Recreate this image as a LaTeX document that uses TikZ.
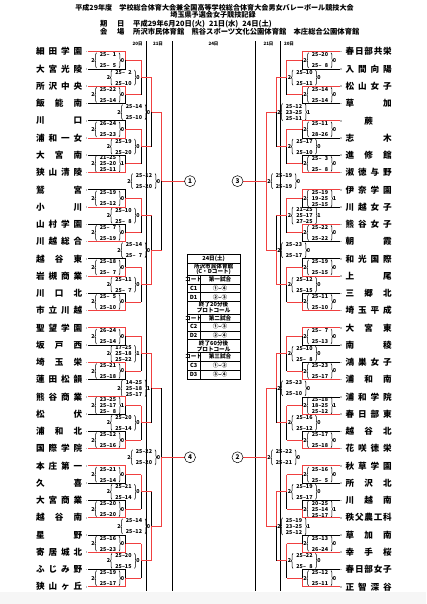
\documentclass[tikz,border=0pt]{standalone}
\usepackage{fontspec}
\newfontfamily\jp{Noto Sans CJK JP}
\usetikzlibrary{decorations.pathreplacing}
\definecolor{winred}{RGB}{240,64,64}
\newcommand\zz{\hphantom{0}}
\def\sprA#1{#1\sprB}
\def\sprB#1{\ifx#1\relax\else\hfill#1\expandafter\sprB\fi}
% score block: #1 x0, #2 ym, #3 nsets, #4 scores, #5 name prefix
\newcommand\SB[5]{%
  \pgfmathsetmacro\bh{#3==3 ? 8.6 : 7.6}%
  \pgfmathtruncatemacro\lc{#3-2}%
  \node[sc] (#5w) at (#1+1.5,#2) {2};
  \node[sc] (#5l) at (#1+31,#2) {\lc};
  \draw[brc] (#1+5,#2+\bh) -- (#1+5,#2-\bh);
  \draw[brc] (#1+27.5,#2-\bh) -- (#1+27.5,#2+\bh);
  \foreach \s [count=\j] in {#4} {%
    \pgfmathsetmacro\sy{#2+(#3==3 ? 6*(\j-2) : 5.5*(2*\j-3))}%
    \node[sc] (#5s\j) at (#1+16.5,\sy) {\s};
  }%
}
% match: #1 side L/R, #2 level, #3 index, #4 winner t/b/a, #5 nsets, #6 scores
\newcommand\MT[6]{%
  \pgfmathsetmacro\rt{2^#2*(#3-1)+(2^(#2-1)-1)/2}%
  \pgfmathsetmacro\yt{51.7+17.26*\rt}%
  \pgfmathsetmacro\yb{\yt+17.26*2^(#2-1)}%
  \pgfmathsetmacro\ym{(\yt+\yb)/2}%
  \pgfmathsetmacro\xv{{125.5,141,151.5,161.5}[#2-1]}%
  \pgfmathsetmacro\xo{{141,151.5,161.5,184.5}[#2-1]}%
  \if L#1\pgfmathsetmacro\xz{\xv-34}\else
    \pgfmathsetmacro\xv{427.5-\xv}\pgfmathsetmacro\xo{427.5-\xo}\pgfmathsetmacro\xz{\xv+1.5}\fi
  \coordinate (#1m#2-#3) at (\xv,\ym);
  \coordinate (#1t#2-#3) at (\xv,\yt);
  \coordinate (#1b#2-#3) at (\xv,\yb);
  \coordinate (#1o#2-#3) at (\xo,\ym);
  \if b#4\draw[lose] (#1t#2-#3) -- (#1m#2-#3);\else\draw[win] (#1t#2-#3) -- (#1m#2-#3);\fi
  \if t#4\draw[lose] (#1m#2-#3) -- (#1b#2-#3);\else\draw[win] (#1m#2-#3) -- (#1b#2-#3);\fi
  \draw[win] (#1m#2-#3) -- (#1o#2-#3);
  \SB{\xz}{\ym}{#5}{#6}{#1m#2-#3}%
}
% team: #1 side, #2 index, #3 w/l, #4 name
\newcommand\TM[4]{%
  \pgfmathsetmacro\ty{51.7+17.26*(#2-1)}%
  \if L#1\def\nx{36}\def\lx{88}\def\ex{125.5}\def\mx{86.3}\else\def\nx{345.5}\def\lx{339.5}\def\ex{302}\def\mx{341.2}\fi
  \node[tname] (#1n#2) at (\nx,\ty) {\makebox[46pt][s]{\sprA #4\relax}};
  \coordinate (#1a#2) at (\lx,\ty);
  \coordinate (#1e#2) at (\ex,\ty);
  \fill[gray!55] (\mx-0.8,\ty-0.8) rectangle (\mx+0.8,\ty+0.8);
  \if w#3\draw[win] (#1a#2) -- (#1e#2);\else\draw[lose] (#1a#2) -- (#1e#2);\fi
}
\begin{document}
\begin{tikzpicture}[x=1pt,y=-1pt,
  win/.style={draw=winred,line width=0.9pt},
  lose/.style={draw=black,line width=0.75pt},
  colline/.style={draw=black,line width=0.8pt},
  sc/.style={font=\jp\bfseries\fontsize{5.4}{5.4}\selectfont,inner sep=0pt},
  tname/.style={font=\jp\bfseries\fontsize{8.6}{9}\selectfont,inner sep=0pt,anchor=west},
  ttl/.style={font=\jp\bfseries\fontsize{7.1}{8}\selectfont,inner sep=0pt},
  ttm/.style={font=\jp\bfseries\fontsize{7.3}{8}\selectfont,inner sep=0pt,anchor=west},
  hdr/.style={font=\jp\bfseries\fontsize{4.5}{5}\selectfont,inner sep=0pt},
  tb/.style={font=\jp\bfseries\fontsize{5.6}{6}\selectfont,inner sep=0pt},
  brc/.style={decorate,decoration={brace,amplitude=1.6pt},line width=0.55pt},
  circ/.style={circle,draw,line width=0.5pt,minimum size=11pt,inner sep=0pt,font=\jp\bfseries\fontsize{6.5}{7}\selectfont}]
\fill[white] (0,0) rectangle (426,604);
\useasboundingbox (0,0) rectangle (426,604);
\fill[gray!7] (0,592) rectangle (426,604);
% titles
\node[ttl] (title1) at (214.5,7.5) {平成29年度　学校総合体育大会兼全国高等学校総合体育大会男女バレーボール競技大会};
\node[ttl] (title2) at (213,14.7) {埼玉県予選会女子競技記録};
\node[ttm] (k1) at (100,24) {期};
\node[ttm] (k2) at (117,24) {日};
\node[ttm] (k3) at (133,24) {平成29年6月20日(火)\hspace{4pt}21日(水)\hspace{4pt}24日(土)};
\node[ttm] (v1) at (100,31.3) {会};
\node[ttm] (v2) at (117,31.3) {場};
\node[ttm] (v3) at (133,31.3) {所沢市民体育館　熊谷スポーツ文化公園体育館　本庄総合公園体育館};
% headers
\node[hdr] (h1) at (137.7,44) {20日};
\node[hdr] (h2) at (158,44) {21日};
\node[hdr] (h3) at (213.5,44) {24日};
\node[hdr] (h4) at (268.5,44) {21日};
\node[hdr] (h5) at (289,44) {20日};
\foreach \cx/\cn in {146.7/a,172/b,255.5/c,280.8/d}{
  \coordinate (col\cn t) at (\cx,41.5);
  \coordinate (col\cn b) at (\cx,590.5);
  \draw[colline] (col\cn t) -- (col\cn b);
}
% left matches
\MT{L}{1}{1}{t}{2}{25–\zz1,25–\zz5}
\MT{L}{1}{2}{t}{2}{25–22,25–14}
\MT{L}{1}{3}{b}{2}{26–24,25–23}
\MT{L}{1}{4}{b}{3}{21–25,25–20,25–11}
\MT{L}{1}{5}{b}{2}{25–19,25–12}
\MT{L}{1}{6}{b}{2}{25–\zz7,25–19}
\MT{L}{1}{7}{b}{2}{25–18,25–\zz7}
\MT{L}{1}{8}{b}{2}{25–\zz5,25–10}
\MT{L}{1}{9}{t}{2}{26–24,25–14}
\MT{L}{1}{10}{t}{2}{25–21,25–18}
\MT{L}{1}{11}{t}{3}{23–25,25–17,25–\zz8}
\MT{L}{1}{12}{b}{2}{25–12,25–16}
\MT{L}{1}{13}{t}{2}{25–21,25–14}
\MT{L}{1}{14}{b}{2}{25–20,25–20}
\MT{L}{1}{15}{b}{2}{25–16,25–23}
\MT{L}{1}{16}{b}{2}{25–19,25–17}
\MT{L}{2}{1}{t}{2}{25–\zz2,25–10}
\MT{L}{2}{2}{t}{2}{25–19,25–20}
\MT{L}{2}{3}{t}{2}{25–10,25–\zz8}
\MT{L}{2}{4}{t}{2}{25–11,25–\zz7}
\MT{L}{2}{5}{t}{3}{17–25,25–18,25–22}
\MT{L}{2}{6}{t}{2}{25–20,25–14}
\MT{L}{2}{7}{t}{2}{25–21,25–14}
\MT{L}{2}{8}{t}{2}{25–20,25–15}
\MT{L}{3}{1}{t}{2}{25–14,25–10}
\MT{L}{3}{2}{b}{2}{25–14,25–\zz7}
\MT{L}{3}{3}{t}{3}{14–25,25–18,25–17}
\MT{L}{3}{4}{b}{2}{25–14,25–12}
\MT{L}{4}{1}{t}{2}{25–12,25–20}
\MT{L}{4}{2}{b}{2}{25–22,25–20}
% right matches
\MT{R}{1}{1}{t}{2}{25–20,25–\zz8}
\MT{R}{1}{2}{t}{2}{25–14,25–14}
\MT{R}{1}{3}{t}{2}{25–11,28–26}
\MT{R}{1}{4}{b}{2}{25–\zz3,25–\zz8}
\MT{R}{1}{5}{t}{3}{25–19,19–25,25–15}
\MT{R}{1}{6}{t}{2}{25–22,25–22}
\MT{R}{1}{7}{b}{2}{25–19,25–15}
\MT{R}{1}{8}{b}{2}{25–11,25–10}
\MT{R}{1}{9}{t}{2}{25–\zz7,25–13}
\MT{R}{1}{10}{b}{2}{25–23,25–17}
\MT{R}{1}{11}{b}{3}{25–18,18–25,25–12}
\MT{R}{1}{12}{b}{2}{25–17,25–18}
\MT{R}{1}{13}{t}{2}{25–16,25–\zz5}
\MT{R}{1}{14}{b}{3}{20–25,25–14,25–17}
\MT{R}{1}{15}{b}{2}{25–13,26–24}
\MT{R}{1}{16}{b}{2}{25–12,25–11}
\MT{R}{2}{1}{t}{2}{25–10,25–11}
\MT{R}{2}{2}{t}{2}{25–17,25–10}
\MT{R}{2}{3}{t}{3}{21–25,25–17,27–25}
\MT{R}{2}{4}{t}{2}{25–12,25–15}
\MT{R}{2}{5}{t}{2}{25–10,25–\zz8}
\MT{R}{2}{6}{t}{2}{25–16,25–12}
\MT{R}{2}{7}{t}{2}{25–19,25–17}
\MT{R}{2}{8}{t}{2}{25–22,25–\zz8}
\MT{R}{3}{1}{t}{3}{25–12,23–25,25–11}
\MT{R}{3}{2}{b}{2}{25–23,25–17}
\MT{R}{3}{3}{t}{2}{25–23,25–10}
\MT{R}{3}{4}{t}{3}{25–19,23–25,25–12}
\MT{R}{4}{1}{a}{2}{25–19,25–19}
\MT{R}{4}{2}{a}{2}{25–22,25–21}
% teams left
\TM{L}{1}{w}{細田学園}
\TM{L}{2}{l}{大宮光陵}
\TM{L}{3}{w}{所沢中央}
\TM{L}{4}{l}{飯能南}
\TM{L}{5}{l}{川口}
\TM{L}{6}{w}{浦和一女}
\TM{L}{7}{l}{大宮南}
\TM{L}{8}{w}{狭山清陵}
\TM{L}{9}{l}{鷲宮}
\TM{L}{10}{w}{小川}
\TM{L}{11}{l}{山村学園}
\TM{L}{12}{w}{川越総合}
\TM{L}{13}{l}{越谷東}
\TM{L}{14}{w}{岩槻商業}
\TM{L}{15}{l}{川口北}
\TM{L}{16}{w}{市立川越}
\TM{L}{17}{w}{聖望学園}
\TM{L}{18}{l}{坂戸西}
\TM{L}{19}{w}{埼玉栄}
\TM{L}{20}{l}{蓮田松韻}
\TM{L}{21}{w}{熊谷商業}
\TM{L}{22}{l}{松伏}
\TM{L}{23}{l}{浦和北}
\TM{L}{24}{w}{国際学院}
\TM{L}{25}{w}{本庄第一}
\TM{L}{26}{l}{久喜}
\TM{L}{27}{l}{大宮商業}
\TM{L}{28}{w}{越谷南}
\TM{L}{29}{l}{星野}
\TM{L}{30}{w}{寄居城北}
\TM{L}{31}{l}{ふじみ野}
\TM{L}{32}{w}{狭山ヶ丘}
% teams right
\TM{R}{1}{w}{春日部共栄}
\TM{R}{2}{l}{入間向陽}
\TM{R}{3}{w}{松山女子}
\TM{R}{4}{l}{草加}
\TM{R}{5}{w}{{\hfill}蕨\hfill}
\TM{R}{6}{l}{志木}
\TM{R}{7}{l}{進修館}
\TM{R}{8}{w}{淑徳与野}
\TM{R}{9}{w}{伊奈学園}
\TM{R}{10}{l}{川越女子}
\TM{R}{11}{w}{熊谷女子}
\TM{R}{12}{l}{朝霞}
\TM{R}{13}{l}{和光国際}
\TM{R}{14}{w}{上尾}
\TM{R}{15}{l}{三郷北}
\TM{R}{16}{w}{埼玉平成}
\TM{R}{17}{w}{大宮東}
\TM{R}{18}{l}{南稜}
\TM{R}{19}{l}{鴻巣女子}
\TM{R}{20}{w}{浦和南}
\TM{R}{21}{l}{浦和学院}
\TM{R}{22}{w}{春日部東}
\TM{R}{23}{l}{越谷北}
\TM{R}{24}{w}{花咲徳栄}
\TM{R}{25}{w}{秋草学園}
\TM{R}{26}{l}{所沢北}
\TM{R}{27}{l}{川越南}
\TM{R}{28}{w}{秩父農工科}
\TM{R}{29}{l}{草加南}
\TM{R}{30}{w}{幸手桜}
\TM{R}{31}{l}{春日部女子}
\TM{R}{32}{w}{正智深谷}
% group circles
\node[circ] (g1) at (190,181.15) {1};
\node[circ] (g4) at (190,457.3) {4};
\node[circ] (g3) at (237.5,181.15) {3};
\node[circ] (g2) at (237.5,457.3) {2};
% schedule table
\draw[line width=0.5pt] (187.3,263) -- (240,263) (187.3,275) -- (240,275)
  (187.3,284) -- (240,284) (187.3,292.7) -- (240,292.7) (187.3,301.3) -- (240,301.3)
  (187.3,314) -- (240,314) (187.3,322.5) -- (240,322.5) (187.3,331) -- (240,331)
  (187.3,339.7) -- (240,339.7) (187.3,352.5) -- (240,352.5) (187.3,361) -- (240,361)
  (187.3,370) -- (240,370)
  (200,275) -- (200,301.3) (200,314) -- (200,339.7) (200,352.5) -- (200,379);
\draw[line width=0.9pt] (187.3,254) rectangle (240,379);
\node[tb] (tbh) at (213.6,258.6) {24日(土)};
\node[tb] (tbv1) at (213.6,266) {所沢市民体育館};
\node[tb] (tbv2) at (213.6,271.6) {(C・Dコート)};
\node[tb] (tc1) at (193.6,279.5) {コート};
\node[tb] (tg1) at (220,279.5) {第一試合};
\node[tb] (tc2) at (193.6,288.3) {C1};
\node[tb] (tg2) at (220,288.3) {①–④};
\node[tb] (tc3) at (193.6,297) {D1};
\node[tb] (tg3) at (220,297) {②–③};
\node[tb] (tn1) at (213.6,304.8) {終了20分後};
\node[tb] (tn2) at (213.6,310.5) {プロトコール};
\node[tb] (tc4) at (193.6,318.2) {コート};
\node[tb] (tg4) at (220,318.2) {第二試合};
\node[tb] (tc5) at (193.6,326.7) {C2};
\node[tb] (tg5) at (220,326.7) {①–③};
\node[tb] (tc6) at (193.6,335.3) {D2};
\node[tb] (tg6) at (220,335.3) {②–④};
\node[tb] (tn3) at (213.6,343.2) {終了60分後};
\node[tb] (tn4) at (213.6,349) {プロトコール};
\node[tb] (tc7) at (193.6,356.7) {コート};
\node[tb] (tg7) at (220,356.7) {第三試合};
\node[tb] (tc8) at (193.6,365.5) {C3};
\node[tb] (tg8) at (220,365.5) {①–②};
\node[tb] (tc9) at (193.6,374.5) {D3};
\node[tb] (tg9) at (220,374.5) {③–④};
\end{tikzpicture}
\end{document}
